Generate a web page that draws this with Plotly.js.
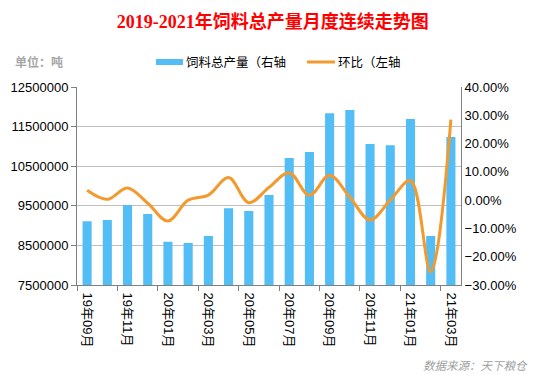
<!DOCTYPE html>
<html>
<head>
<meta charset="utf-8">
<script src="https://cdn.plot.ly/plotly-3.0.1.min.js"></script>
<style>html,body{margin:0;padding:0;background:#fff;}#chart{width:540px;height:375px;}</style>
</head>
<body>
<div id="chart"></div>
<script>
const months = ["19年09月","19年10月","19年11月","19年12月","20年01月","20年02月","20年03月","20年04月","20年05月","20年06月","20年07月","20年08月","20年09月","20年10月","20年11月","20年12月","21年01月","21年02月","21年03月"];
const output = [9110000,9140000,9520000,9290000,8590000,8560000,8740000,9440000,9370000,9770000,10710000,10860000,11840000,11920000,11060000,11030000,11690000,8740000,11240000];
const momChange = [0.035,0.003,0.043,-0.011,-0.074,0.000,0.018,0.080,-0.009,0.045,0.097,0.017,0.088,0.010,-0.070,0.000,0.069,-0.253,0.285];
const barName = "饲料总产量（右轴";
const lineName = "环比（左轴";

const tickFont = {family: "Liberation Sans, Arial, Noto Sans CJK SC, sans-serif", size: 13, color: "#000"};
const px = v => (v - 77) / 384;
const py = v => (285 - v) / 198;

const data = [
  {type: "bar", x: months, y: output, name: barName, marker: {color: "#53BDF6"}, width: 0.45, yaxis: "y", hoverinfo: "x+y"},
  {type: "scatter", mode: "lines", x: months, y: momChange, name: lineName, line: {color: "#F39A2E", width: 3, shape: "spline", smoothing: 1}, yaxis: "y2"}
];

const layout = {
  width: 540, height: 375,
  margin: {l: 77, r: 79, t: 87, b: 90},
  paper_bgcolor: "#fff", plot_bgcolor: "#fff",
  showlegend: false,
  title: {text: "2019-2021年饲料总产量月度连续走势图", x: 0.505, xanchor: "center", y: 0.941, yanchor: "middle",
    font: {family: "Liberation Serif, Noto Sans CJK SC, serif", size: 18, color: "#FF0000", weight: "bold"}},
  xaxis: {type: "category", tickangle: 90, dtick: 2, tickson: "boundaries", ticks: "outside", ticklen: 5, tickcolor: "#808080",
    showline: true, linecolor: "#808080", linewidth: 1, showgrid: false, tickfont: tickFont, ticklabelstandoff: 4},
  yaxis: {range: [7500000, 12500000], dtick: 1000000, tick0: 7500000, tickformat: "d", showgrid: true, gridcolor: "#BFBFBF",
    showline: true, linecolor: "#808080", ticks: "outside", ticklen: 5, tickcolor: "#808080", tickfont: tickFont, zeroline: false, fixedrange: true},
  yaxis2: {overlaying: "y", side: "right", range: [-0.3, 0.4], dtick: 0.1, tick0: -0.3, tickformat: ".2%", showgrid: false,
    showline: true, linecolor: "#808080", ticks: "", tickfont: tickFont, zeroline: false},
  shapes: [
    {type: "rect", xref: "paper", yref: "paper", x0: px(156), x1: px(183), y0: py(65), y1: py(59), fillcolor: "#53BDF6", line: {width: 0}},
    {type: "line", xref: "paper", yref: "paper", x0: px(307), x1: px(335), y0: py(62), y1: py(62), line: {color: "#F39A2E", width: 3}}
  ],
  annotations: [
    {text: barName, xref: "paper", yref: "paper", x: px(184), y: py(62), xanchor: "left", yanchor: "middle", showarrow: false,
      font: {family: "Noto Sans CJK SC, sans-serif", size: 12.5, color: "#000"}},
    {text: lineName, xref: "paper", yref: "paper", x: px(336), y: py(62), xanchor: "left", yanchor: "middle", showarrow: false,
      font: {family: "Noto Sans CJK SC, sans-serif", size: 12.5, color: "#000"}},
    {text: "单位：吨", xref: "paper", yref: "paper", x: px(13), y: py(62), xanchor: "left", yanchor: "middle", showarrow: false,
      font: {family: "Noto Sans CJK SC, sans-serif", size: 12, color: "#A6A6A6", weight: "bold"}},
    {text: "<i>数据来源：天下粮仓</i>", xref: "paper", yref: "paper", x: px(530), y: py(365), xanchor: "right", yanchor: "middle", showarrow: false,
      font: {family: "Noto Sans CJK SC, sans-serif", size: 11.5, color: "#A0A0A0"}}
  ]
};

Plotly.newPlot("chart", data, layout, {displayModeBar: false, staticPlot: true});
</script>
</body>
</html>
